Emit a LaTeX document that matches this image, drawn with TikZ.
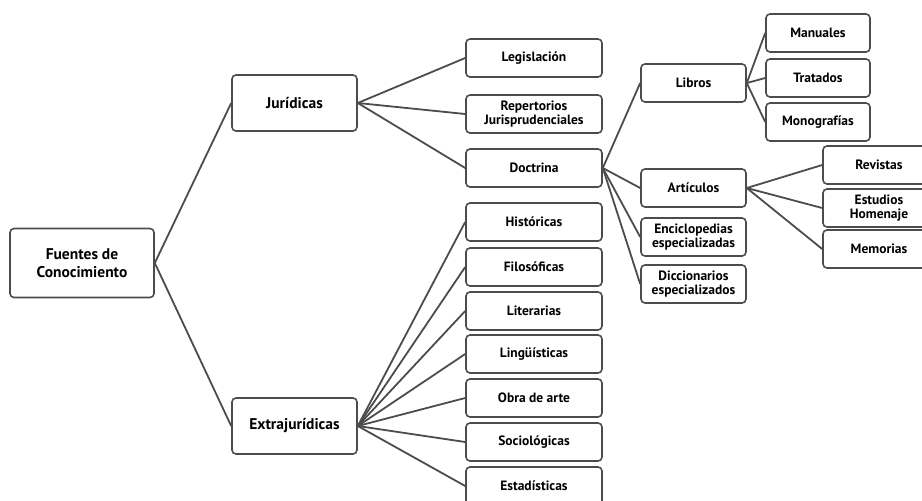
\documentclass[tikz,border=0pt]{standalone}
\usepackage{fontspec}
\setmainfont{PT Sans}
\begin{document}
\begin{tikzpicture}[x=1pt,y=-1pt,
  box/.style={draw=black!70, line width=1.6pt, rounded corners=4pt, fill=white,
    align=center, inner sep=1pt, minimum height=38pt,
    font=\bfseries\fontsize{13.5}{13.5}\selectfont},
  bigbox/.style={box, font=\bfseries\fontsize{15.5}{18}\selectfont},
  link/.style={draw=black!70, line width=1.8pt}]
\useasboundingbox (0,0) rectangle (922,501);
\clip (0,0) rectangle (922,501);
% root and first level
\node[bigbox, minimum width=144pt, minimum height=69pt] (fc) at (82,263){Fuentes de\\Conocimiento};
\node[bigbox, minimum width=125pt, minimum height=56pt] (jur) at (294.5,103){Jurídicas};
\node[bigbox, minimum width=125pt, minimum height=56pt] (ext) at (294.5,426){Extrajurídicas};
% juridicas
\node[box, minimum width=136pt] (leg) at (534,58){Legislación};
\node[box, minimum width=136pt] (rep) at (534,114){Repertorios\\Jurisprudenciales};
\node[box, minimum width=136pt] (doc) at (534,168){Doctrina};
% extrajuridicas
\node[box, minimum width=136pt] (his) at (534,222){Históricas};
\node[box, minimum width=136pt] (fil) at (534,267){Filosóficas};
\node[box, minimum width=136pt] (lit) at (534,311){Literarias};
\node[box, minimum width=136pt] (lin) at (534,354){Lingüísticas};
\node[box, minimum width=136pt] (oba) at (534,398){Obra de arte};
\node[box, minimum width=136pt] (soc) at (534,442){Sociológicas};
\node[box, minimum width=136pt] (est) at (534,486){Estadísticas};
% doctrina
\node[box, minimum width=105pt] (lib) at (693.5,83){Libros};
\node[box, minimum width=105pt] (art) at (693.5,188){Artículos};
\node[box, minimum width=105pt] (enc) at (693.5,237){Enciclopedias\\especializadas};
\node[box, minimum width=105pt] (dic) at (693.5,284){Diccionarios\\especializados};
% libros
\node[box, minimum width=104pt] (man) at (818,33){Manuales};
\node[box, minimum width=104pt] (tra) at (818,78){Tratados};
\node[box, minimum width=104pt] (mon) at (818,122){Monografías};
% articulos
\node[box, minimum width=112pt] (rev) at (879,165){Revistas};
\node[box, minimum width=112pt] (eho) at (879,208){Estudios\\Homenaje};
\node[box, minimum width=112pt] (mem) at (879,249){Memorias};
% connectors
\draw[link](fc.east) -- (jur.west);
\draw[link](fc.east) -- (ext.west);
\foreach \c in {leg,rep,doc}
  \draw[link](jur.east) -- (\c.west);
\foreach \c in {his,fil,lit,lin,oba,soc,est}
  \draw[link](ext.east) -- (\c.west);
\foreach \c in {lib,art,enc,dic}
  \draw[link](doc.east) -- (\c.west);
\foreach \c in {man,tra,mon}
  \draw[link](lib.east) -- (\c.west);
\foreach \c in {rev,eho,mem}
  \draw[link](art.east) -- (\c.west);
\end{tikzpicture}
\end{document}
